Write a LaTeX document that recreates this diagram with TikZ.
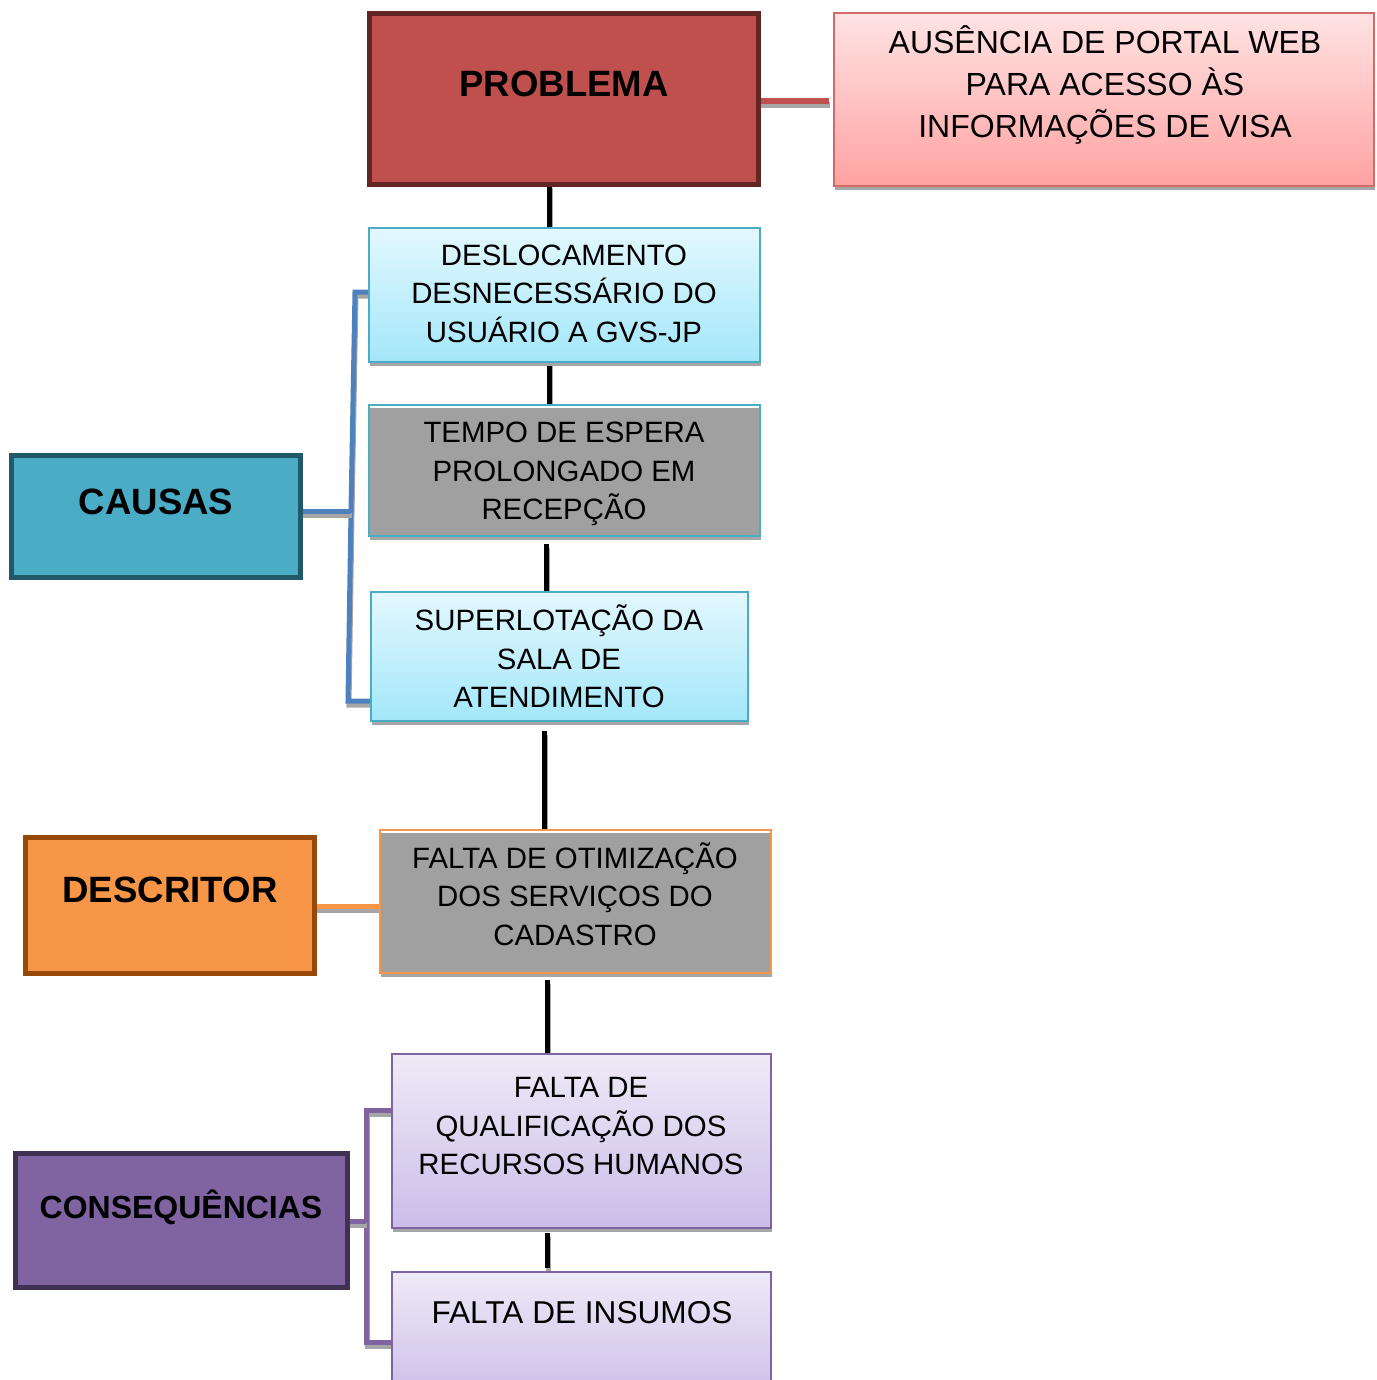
\documentclass[tikz,border=0pt]{standalone}
\usepackage{fontspec}
\setmainfont{Liberation Sans}
\usetikzlibrary{shadows,calc,backgrounds}

\definecolor{probfill}{HTML}{C0504D}
\definecolor{probline}{HTML}{632523}
\definecolor{ausline}{HTML}{D46A68}
\definecolor{austop}{HTML}{FFE3E3}
\definecolor{ausbot}{HTML}{FFA2A2}
\definecolor{cyanline}{HTML}{4BACC6}
\definecolor{cyantop}{HTML}{E3F8FE}
\definecolor{cyanbot}{HTML}{A3E7FA}
\definecolor{grayfill}{HTML}{A0A0A0}
\definecolor{orng}{HTML}{F79646}
\definecolor{orngdark}{HTML}{984807}
\definecolor{causline}{HTML}{215968}
\definecolor{purp}{HTML}{8064A2}
\definecolor{purpdark}{HTML}{3F3151}
\definecolor{lavtop}{HTML}{EFEAF7}
\definecolor{lavbot}{HTML}{CBBDE8}
\definecolor{bluebr}{HTML}{4F81BD}
\definecolor{shadegray}{HTML}{A6A6A6}

% draw a connector with its grey drop shadow underneath
\newcommand\shadowedline[2]{\draw[#1, lsh] #2; \draw[#1] #2;}

\tikzset{
  sz/.style 2 args={minimum width=#1*0.5pt, minimum height=#2*0.5pt},
  bx/.style={rectangle, inner sep=0pt, outer sep=0pt},
  shd/.style={drop shadow={shadow xshift=0.5pt, shadow yshift=-2pt, fill=shadegray, opacity=1}},
  topstrip/.style={path picture={\fill[white] (path picture bounding box.north west) rectangle ([yshift=-1.6pt]path picture bounding box.north east);}},
  cbox/.style={bx, top color=cyantop, bottom color=cyanbot, draw=cyanline, line width=0.8pt, shd},
  lbox/.style={bx, top color=lavtop, bottom color=lavbot, draw=purp, line width=0.8pt, shd},
  gbox/.style={bx, fill=grayfill, line width=0.9pt, shd, topstrip},
  hbox/.style={bx, line width=2.5pt},
  lbl/.style={align=center, inner sep=0pt, font=\fontsize{14.7}{19.25}\selectfont},
  lblbig/.style={align=center, inner sep=0pt, font=\fontsize{16}{21}\selectfont},
  hd/.style={inner sep=0pt, font=\bfseries\fontsize{18.3}{22}\selectfont},
  lsh/.style={draw=shadegray, transform canvas={xshift=0.5pt, yshift=-2pt}},
  spine/.style={line width=2.5pt, draw=black},
  redc/.style={line width=3.2pt, draw=probfill},
  bluec/.style={line width=2.5pt, draw=bluebr, line join=miter},
  orc/.style={line width=2.5pt, draw=orng},
  purc/.style={line width=2.5pt, draw=purp, line join=miter},
}

\begin{document}
\begin{tikzpicture}[x=0.5pt, y=-0.5pt]
\useasboundingbox (0,0) rectangle (1376,1380);
\clip (0,0) rectangle (1376,1380);

% main column
\node[hbox, sz={389}{171}, fill=probfill, draw=probline] (prob) at (564,99) {};
\node[bx, sz={540}{173}, top color=austop, bottom color=ausbot, draw=ausline, line width=0.8pt, shd] (aus) at (1104,99.5) {};
\node[cbox, sz={391}{134}] (desl) at (564.5,295) {};
\node[gbox, sz={391}{131}, draw=cyanline] (tempo) at (564.5,470.5) {};
\node[cbox, sz={377}{129}] (super) at (559.5,656.5) {};
\node[gbox, sz={391}{143}, draw=orng] (otim) at (575.5,901.5) {};
\node[lbox, sz={379}{174}] (qual) at (581.5,1141) {};
\node[lbox, sz={379}{128}] (insu) at (581.5,1336) {};

% left-hand headings
\node[hbox, sz={289}{122}, fill=cyanline, draw=causline] (causas) at (156,516.5) {};
\node[hbox, sz={289}{136}, fill=orng, draw=orngdark] (descr) at (169.5,905) {};
\node[hbox, sz={332}{134}, fill=purp, draw=purpdark] (conseq) at (181,1220) {};

% texts
\node[hd] (probT) at (564,84) {PROBLEMA};
\node[lblbig] (ausT) at (1105,85) {AUSÊNCIA DE PORTAL WEB\\PARA ACESSO ÀS\\INFORMAÇÕES DE VISA};
\node[lbl] (deslT) at (564,293.5) {DESLOCAMENTO\\DESNECESSÁRIO DO\\USUÁRIO A GVS-JP};
\node[lbl] (tempoT) at (564,474) {TEMPO DE ESPERA\\PROLONGADO EM\\RECEPÇÃO};
\node[lbl] (superT) at (559,656.5) {SUPERLOTAÇÃO DA\\SALA DE\\ATENDIMENTO};
\node[lbl] (otimT) at (575,894) {FALTA DE OTIMIZAÇÃO\\DOS SERVIÇOS DO\\CADASTRO};
\node[lbl] (qualT) at (581,1126.5) {FALTA DE\\QUALIFICAÇÃO DOS\\RECURSOS HUMANOS};
\node[inner sep=0pt, font=\fontsize{15.8}{20}\selectfont] (insuT) at (582,1313) {FALTA DE INSUMOS};
\node[hd] (causasT) at (156,502) {CAUSAS};
\node[hd] (descrT) at (170,890) {DESCRITOR};
\node[inner sep=0pt, font=\bfseries\fontsize{16}{19}\selectfont] (conseqT) at (181,1207) {CONSEQUÊNCIAS};

% bracket corners
\coordinate (cb1) at (355,292);
\coordinate (cb2) at (351,511);
\coordinate (cb3) at (348,701);
\coordinate (cp1) at (366,1110);
\coordinate (cp2) at (366,1342);
\coordinate (cp3) at (366,1221);

\begin{scope}[on background layer]
  \fill[white] (0,0) rectangle (1376,1380);
  % vertical chain
  \shadowedline{spine}{($(prob.south)+(-15,0)$) -- ($(desl.north)+(-15.5,0)$)}
  \shadowedline{spine}{($(desl.south)+(-15.5,0)$) -- ($(tempo.north)+(-15.5,0)$)}
  \shadowedline{spine, shorten <=4pt}{($(tempo.south)+(-18.5,0)$) -- ($(super.north)+(-13.5,0)$)}
  \shadowedline{spine, shorten <=5pt}{($(super.south)+(-15.5,0)$) -- ($(otim.north)+(-31.5,0)$)}
  \shadowedline{spine, shorten <=3.5pt}{($(otim.south)+(-28.5,0)$) -- ($(qual.north)+(-34.5,0)$)}
  \shadowedline{spine, shorten <=2.5pt, shorten >=2pt}{($(qual.south)+(-34.5,0)$) -- ($(insu.north)+(-34.5,0)$)}
  % problem to its statement
  \shadowedline{redc, shorten >=2.5pt}{($(prob.east)+(0,2)$) -- ($(aus.west)+(0,1.5)$)}
  % causes bracket
  \shadowedline{bluec}{($(desl.west)+(3,-3)$) -- (cb1) -- (cb2) -- (cb3) -- ($(super.west)+(0,44.5)$)}
  \shadowedline{bluec}{($(causas.east)+(0,-5.5)$) -- (cb2)}
  % descriptor link
  \shadowedline{orc}{($(descr.east)+(0,1)$) -- ($(otim.west)+(0,4.5)$)}
  % consequences bracket
  \shadowedline{purc}{($(qual.west)+(0,-31)$) -- (cp1) -- (cp2) -- ($(insu.west)+(0,6)$)}
  \shadowedline{purc}{($(conseq.east)+(0,1)$) -- (cp3)}
\end{scope}
\end{tikzpicture}
\end{document}
